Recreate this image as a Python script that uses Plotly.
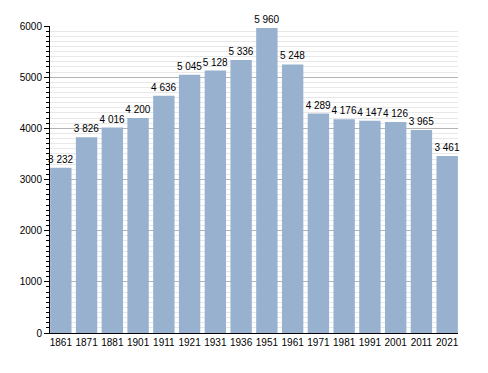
import plotly.graph_objects as go

years = ["1861", "1871", "1881", "1901", "1911", "1921", "1931", "1936",
         "1951", "1961", "1971", "1981", "1991", "2001", "2011", "2021"]
population = [3232, 3826, 4016, 4200, 4636, 5045, 5128, 5336,
              5960, 5248, 4289, 4176, 4147, 4126, 3965, 3461]
y_ticks = [0, 1000, 2000, 3000, 4000, 5000, 6000]

fig = go.Figure(go.Bar(
    x=years, y=population,
    marker=dict(color="#97b1cf", line=dict(width=0)),
    texttemplate="%{y:,}", textposition="outside",
    textfont=dict(size=10, color="#000000", family="Liberation Sans, Arial, sans-serif"),
    constraintext="none", cliponaxis=False,
))

fig.update_layout(
    width=480, height=365,
    margin=dict(l=42, r=30, t=13, b=40),
    paper_bgcolor="white", plot_bgcolor="white",
    separators=". ",
    bargap=0.17,
    showlegend=False,
    font=dict(family="Liberation Sans, Arial, sans-serif", size=10, color="#000000"),
)
fig.update_xaxes(
    type="category", range=[-0.42, 15.42],
    showline=True, linecolor="black", linewidth=1,
    ticks="", showgrid=False, tickfont=dict(size=10),
)
fig.update_yaxes(
    range=[0, 6000], tickvals=y_ticks,
    showline=True, linecolor="black", linewidth=1,
    ticks="outside", ticklen=5, tickcolor="black",
    showgrid=True, gridcolor="#b4b4b4", gridwidth=1,
    minor=dict(dtick=100, showgrid=True, gridcolor="#e8e8e8", gridwidth=1,
               ticks="outside", ticklen=3, tickcolor="black"),
    zeroline=False, tickfont=dict(size=10),
)

fig.write_html("out.html")
